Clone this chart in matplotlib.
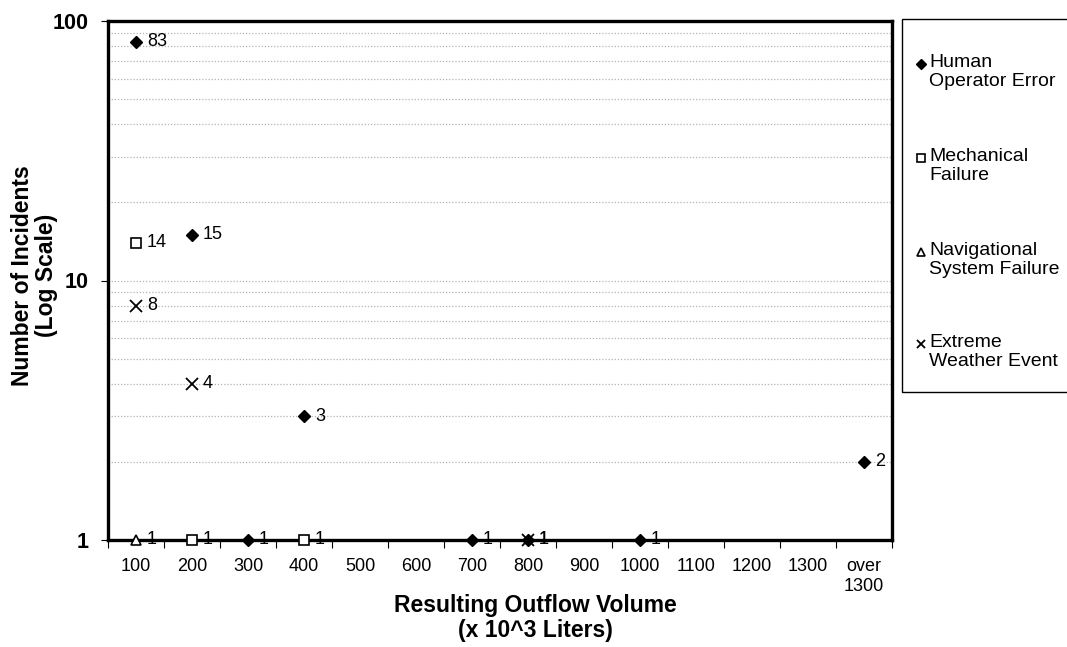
import matplotlib
matplotlib.use("Agg")
import matplotlib.pyplot as plt
from matplotlib.lines import Line2D
from matplotlib.patches import Rectangle
from matplotlib.ticker import LogLocator, FixedLocator, NullFormatter

plt.rcParams['font.family'] = ['Liberation Sans', 'DejaVu Sans']

# outflow volume categories (x 10^3 liters)
categories = ['100', '200', '300', '400', '500', '600', '700', '800', '900',
              '1000', '1100', '1200', '1300', 'over\n1300']

# incidents per cause
human_cat = ['100', '200', '300', '400', '700', '800', '1000', 'over\n1300']
human_val = [83, 15, 1, 3, 1, 1, 1, 2]
mech_cat = ['100', '200', '400']
mech_val = [14, 1, 1]
nav_cat = ['100']
nav_val = [1]
weather_cat = ['100', '200', '800']
weather_val = [8, 4, 1]

series = [
    ('Human\nOperator Error', human_cat, human_val,
     dict(marker='D', ms=6.5, mfc='black', mec='black')),
    ('Mechanical\nFailure', mech_cat, mech_val,
     dict(marker='s', ms=6.5, mfc='white', mec='black', mew=1.2)),
    ('Navigational\nSystem Failure', nav_cat, nav_val,
     dict(marker='^', ms=6.5, mfc='white', mec='black', mew=1.2)),
    ('Extreme\nWeather Event', weather_cat, weather_val,
     dict(marker='x', ms=8, mec='black', mew=1.3)),
]

fig = plt.figure(figsize=(10.67, 6.47), dpi=100)
ax = fig.add_axes([108 / 1067, 1 - 540 / 647, 784 / 1067, 519 / 647])

ax.set_yscale('log')
ax.set_ylim(1, 100)
ax.set_xlim(-0.5, len(categories) - 0.5)

for name, cats, vals, style in series:
    xs = [categories.index(c) for c in cats]
    ax.plot(xs, vals, linestyle='none', clip_on=False, zorder=5, **style)
    for x, v in zip(xs, vals):
        ax.annotate(str(v), (x, v), xytext=(8, 0), textcoords='offset points',
                    ha='left', va='center', fontsize=13, zorder=6,
                    annotation_clip=False)

# gridlines at every log step
ax.yaxis.set_major_locator(FixedLocator([1, 10, 100]))
ax.yaxis.set_minor_locator(LogLocator(base=10, subs=range(2, 10)))
ax.yaxis.set_minor_formatter(NullFormatter())
ax.set_yticklabels(['1', '10', '100'], fontweight='bold', fontsize=15.5)
ax.grid(True, which='both', axis='y', color='#b4b4b4',
        linestyle=(0, (1, 1.5)), linewidth=0.9)
ax.tick_params(axis='y', which='major', length=5, width=0.8, pad=9)
ax.tick_params(axis='y', which='minor', length=0)

ax.set_xticks(range(len(categories)))
ax.set_xticklabels(categories, fontsize=13)
ax.set_xticks([i - 0.5 for i in range(len(categories) + 1)], minor=True)
ax.tick_params(axis='x', which='major', length=0, pad=13)
ax.tick_params(axis='x', which='minor', length=6, width=0.8)

for sp in ax.spines.values():
    sp.set_linewidth(2.4)
    sp.set_color('black')

ax.set_xlabel('Resulting Outflow Volume\n(x 10^3 Liters)', fontsize=16.5,
              fontweight='bold', va='top', linespacing=1.1)
ax.xaxis.set_label_coords(0.545, -0.105)
ax.set_ylabel('Number of Incidents\n(Log Scale)', fontsize=16.5,
              fontweight='bold', linespacing=1.05)
ax.yaxis.set_label_coords(-0.064, 0.51)

# legend drawn as a box on the right
lx0, ly0, ly1 = 902 / 1067, 1 - 392 / 647, 1 - 19 / 647
fig.add_artist(Rectangle((lx0, ly0), 1.05 - lx0, ly1 - ly0,
                         transform=fig.transFigure, fill=False,
                         edgecolor='black', linewidth=1.0))
entry_y = [64, 158, 252, 344]
for (name, cats, vals, style), yy in zip(series, entry_y):
    fy = 1 - yy / 647
    st = dict(style)
    st['ms'] = st['ms'] * 0.8
    fig.add_artist(Line2D([921 / 1067], [fy], transform=fig.transFigure,
                          linestyle='none', **st))
    fig.text(929 / 1067, fy + 10 / 647, name, fontsize=14, ha='left',
             va='top', linespacing=1.15)

fig.savefig('out.png', dpi=100)
